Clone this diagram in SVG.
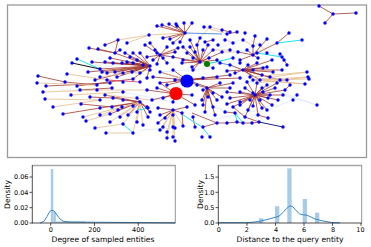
<svg xmlns="http://www.w3.org/2000/svg" width="371" height="247" viewBox="0 0 371 247">
<style>
.b{stroke:#a33a2c;stroke-width:0.8;fill:none}
.t{stroke:#e6bb8a;stroke-width:0.8;fill:none}
.f{stroke:#d9eaff;stroke-width:0.8;fill:none}
.c{stroke:#1ee3ee;stroke-width:1;fill:none}
.cb{stroke:#5b8ce0;stroke-width:1;fill:none}
.k{stroke:#111;stroke-width:1;fill:none}
.nv{stroke:#1a237e;stroke-width:1;fill:none}
.cr{stroke:#d8345f;stroke-width:0.8;fill:none}
#nodes circle{fill:#0000ff}
.tick{font-family:"DejaVu Sans",sans-serif;font-size:6.5px;fill:#000}
.lab{font-family:"DejaVu Sans",sans-serif;font-size:7.6px;fill:#000}
.bar{fill:#a6cce6}
.kde{stroke:#3a87c4;stroke-width:1;fill:none}
</style>
<rect width="371" height="247" fill="#fff"/>
<rect x="7.5" y="5" width="359" height="152.5" fill="#fff" stroke="#9a9a9a" stroke-width="1.3"/>
<g id="connectors">
<path class="f" d="M220 63L267 39M240 78L317 105M267 110L293 100M293 100L297 95M213 107L235 113M160 72L213 68M123 92L173 102M100 115L137 112M230 50L267 53M193 58L240 40M230 65L280 80M243 123L270 105M60 90L100 90M210 120L260 110M140 130L175 128M250 40L285 60M283 95L317 105M88 72L122 63"/>
<path class="b" d="M185 33L157 26M185 33L162 25M185 33L169 24M185 33L176 24M185 33L184 23M185 33L192 23M185 33L177 26M185 33L163 38M185 33L170 39M185 33L180 42M185 33L173 43M222 30L230 32M227 34L237 32M213 40L205 42M200 38L197 45M118 40L115 53M89 48L115 53M98 49L115 53M333 14L319 6M333 14L356 13M333 14L325 23M253 55L277 43M253 55L267 39M255 36L253 46M253 46L253 55M289 33L277 43M283 58L287 65M240 60L253 55M247 50L253 55M258 58L253 55M238 52L253 55
M150 66L100 69M150 66L102 72M150 66L107 73M150 66L115 72M150 66L123 73M150 66L105 62M150 66L113 63M150 66L122 63M150 66L127 62M150 66L133 63M150 66L130 57M150 66L137 60M150 66L115 53M150 66L125 53M150 66L133 53M150 66L140 53M150 66L117 77M150 66L133 79M150 66L147 78M150 66L132 72M150 66L143 65M150 66L140 73M150 66L92 62M150 66L110 58M150 66L88 72M150 66L95 80
M160 55L147 57M160 55L157 53M160 55L163 58M160 55L167 47M160 55L155 50M160 55L178 48M160 55L173 57M160 55L157 64M160 55L153 60M160 55L167 63M160 55L145 45M160 55L150 43M160 55L175 52
M200 62L183 47M200 62L190 47M200 62L197 45M200 62L203 50M200 62L213 50M200 62L209 58M200 62L193 58M200 62L183 60M200 62L192 67M200 62L193 70M200 62L182 63M200 62L173 57M200 62L217 60M200 62L222 52M200 62L187 53M200 62L195 52M200 62L208 45M200 62L190 40
M243 70L253 70M243 70L263 68M243 70L273 72M243 70L282 70M243 70L253 77M243 70L260 80M243 70L270 77M243 70L280 80M243 70L235 73M243 70L227 71M243 70L230 65M243 70L248 65M243 70L257 63M243 70L267 67M243 70L272 60M243 70L262 75
M255 95L227 92M255 95L240 92M255 95L253 93M255 95L263 92M255 95L270 95M255 95L230 98M255 95L240 102M255 95L250 100M255 95L260 100M255 95L268 98M255 95L227 104M255 95L233 107M255 95L240 105M255 95L253 106M255 95L267 110M255 95L245 117M255 95L258 115M255 95L247 82M255 95L257 83M255 95L267 85M255 95L277 83M255 95L275 88M255 95L285 90M255 95L283 95M255 95L278 100M255 95L272 105M255 95L262 108M255 95L248 110M255 95L245 88M255 95L262 88
M207 88L197 85M207 88L203 90M207 88L213 93M207 88L202 100M207 88L208 97M207 88L217 100M207 88L203 105M207 88L213 107M207 88L220 83M207 88L233 83M207 88L230 88M207 88L222 97M207 88L205 112M207 88L215 115
M187 80L160 83M187 80L167 85M187 80L153 77M187 80L175 80M187 80L197 85M187 80L203 78M187 80L217 77M187 80L207 87M187 80L173 70M187 80L160 72M187 80L230 75M187 80L240 78
M176 94L160 83M176 94L157 88M176 94L192 95M176 94L173 102M176 94L147 90M176 94L163 98M176 94L152 100M176 94L195 105
M173 110L160 115M173 110L158 123M173 110L173 115M173 110L182 113M173 110L158 108M173 110L187 107M173 110L165 118
M140 102L112 107M140 102L133 106M140 102L147 107M140 102L137 112M140 102L148 117M140 102L113 98M140 102L123 100M140 102L137 98M140 102L100 108M140 102L110 114M140 102L150 112M140 102L128 115M140 102L118 110M140 102L105 95
M38 76L65 82M46 86L110 83M77 86L133 79M63 114L100 108M81 104L112 107M65 82L97 85M80 90L112 88M90 97L113 98M120 50L115 53M105 45L118 40
M203 127L217 123M217 123L227 123M227 123L237 122M237 122L243 123M243 123L252 123M252 123L259 122M258 115L268 118M192 113L217 123M245 117L259 122M233 107L245 117M225 112L235 113
M193 117L195 127M182 113L183 126M287 80L280 80M290 85L285 90"/>
<path class="t" d="M149 35L185 33M118 40L149 35M204 27L227 34M210 27L222 30M127 43L149 35M37 83L97 85M43 92L97 90M45 99L100 100M67 74L123 82M71 95L123 92M53 107L100 100M83 117L122 107M86 121L110 114M95 128L123 124M106 133L133 133M253 80L307 72M253 80L308 77M253 80L309 79M253 80L305 84M250 77L307 72M257 83L308 77M260 80L305 84M173 110L163 127M173 110L173 127M173 110L167 132M173 110L173 137M173 110L167 138M173 110L175 141M173 110L183 126M173 110L175 128M173 110L160 130M140 102L100 115M140 102L120 117M140 102L122 107M140 102L110 122M140 102L123 124M140 102L137 122M140 102L143 125M140 102L133 133M100 77L150 70M97 90L147 90M102 72L140 73M200 62L213 68M200 62L220 63M230 50L213 50M238 52L222 52M160 72L187 80M210 27L200 38M225 40L233 43M243 40L253 46M260 45L267 53M105 95L152 100"/>
<path class="c" d="M277 43L302 40M257 53L282 57M77 59L100 69M207 64L233 58M138 110L148 108M123 124L133 133M183 115L202 127M202 127L210 137M235 113L237 122M235 113L243 123"/>
<path class="cb" d="M185 33L222 34M220 63L230 65"/>
<path class="k" d="M72 63L100 69"/>
<path class="nv" d="M259 122L283 127"/>
<path class="cr" d="M107 80L140 82"/>
</g>
<g id="nodes">
<circle id="n1" cx="157" cy="26" r="1.7"/><circle id="n2" cx="162" cy="25" r="1.7"/><circle id="n3" cx="169" cy="24" r="1.7"/><circle id="n4" cx="176" cy="24" r="1.7"/><circle id="n5" cx="184" cy="23" r="1.7"/><circle id="n6" cx="192" cy="23" r="1.7"/><circle id="n7" cx="177" cy="26" r="1.7"/><circle id="n8" cx="204" cy="27" r="1.7"/><circle id="n9" cx="210" cy="27" r="1.7"/>
<circle id="n10" cx="185" cy="33" r="1.7"/><circle id="n11" cx="222" cy="30" r="1.7"/><circle id="n12" cx="230" cy="32" r="1.7"/><circle id="n13" cx="237" cy="32" r="1.7"/><circle id="n14" cx="245" cy="33" r="1.7"/><circle id="n15" cx="227" cy="34" r="1.7"/><circle id="n16" cx="255" cy="36" r="1.7"/><circle id="n17" cx="149" cy="35" r="1.7"/><circle id="n18" cx="289" cy="33" r="1.7"/>
<circle id="n19" cx="118" cy="40" r="1.7"/><circle id="n20" cx="127" cy="43" r="1.7"/><circle id="n21" cx="163" cy="38" r="1.7"/><circle id="n22" cx="170" cy="39" r="1.7"/><circle id="n23" cx="180" cy="42" r="1.7"/><circle id="n24" cx="173" cy="43" r="1.7"/><circle id="n25" cx="200" cy="38" r="1.7"/><circle id="n26" cx="205" cy="42" r="1.7"/><circle id="n27" cx="213" cy="40" r="1.7"/><circle id="n28" cx="218" cy="45" r="1.7"/><circle id="n29" cx="267" cy="39" r="1.7"/><circle id="n30" cx="277" cy="43" r="1.7"/><circle id="n31" cx="302" cy="40" r="1.7"/><circle id="n32" cx="253" cy="46" r="1.7"/><circle id="n33" cx="233" cy="43" r="1.7"/>
<circle id="n34" cx="89" cy="48" r="1.7"/><circle id="n35" cx="98" cy="49" r="1.7"/><circle id="n36" cx="115" cy="53" r="1.7"/><circle id="n37" cx="125" cy="53" r="1.7"/><circle id="n38" cx="133" cy="53" r="1.7"/><circle id="n39" cx="140" cy="53" r="1.7"/><circle id="n40" cx="155" cy="50" r="1.7"/><circle id="n41" cx="157" cy="53" r="1.7"/><circle id="n42" cx="167" cy="47" r="1.7"/><circle id="n43" cx="178" cy="48" r="1.7"/><circle id="n44" cx="183" cy="47" r="1.7"/><circle id="n45" cx="190" cy="47" r="1.7"/><circle id="n46" cx="197" cy="45" r="1.7"/><circle id="n47" cx="203" cy="50" r="1.7"/><circle id="n48" cx="213" cy="50" r="1.7"/><circle id="n49" cx="222" cy="52" r="1.7"/><circle id="n50" cx="230" cy="50" r="1.7"/><circle id="n51" cx="238" cy="52" r="1.7"/><circle id="n52" cx="247" cy="50" r="1.7"/><circle id="n53" cx="257" cy="53" r="1.7"/><circle id="n54" cx="267" cy="53" r="1.7"/>
<circle id="n55" cx="130" cy="57" r="1.7"/><circle id="n56" cx="137" cy="60" r="1.7"/><circle id="n57" cx="147" cy="57" r="1.7"/><circle id="n58" cx="153" cy="60" r="1.7"/><circle id="n59" cx="163" cy="58" r="1.7"/><circle id="n60" cx="173" cy="57" r="1.7"/><circle id="n61" cx="183" cy="60" r="1.7"/><circle id="n62" cx="193" cy="58" r="1.7"/><circle id="n63" cx="200" cy="62" r="1.7"/><circle id="n64" cx="209" cy="58" r="1.7"/><circle id="n65" cx="217" cy="60" r="1.7"/><circle id="n66" cx="233" cy="58" r="1.7"/><circle id="n67" cx="240" cy="60" r="1.7"/><circle id="n68" cx="253" cy="55" r="1.7"/><circle id="n69" cx="258" cy="58" r="1.7"/><circle id="n70" cx="280" cy="54" r="1.7"/><circle id="n71" cx="282" cy="57" r="1.7"/><circle id="n72" cx="284" cy="60" r="1.7"/><circle id="n73" cx="287" cy="65" r="1.7"/>
<circle id="n74" cx="77" cy="59" r="1.7"/><circle id="n75" cx="72" cy="63" r="1.7"/><circle id="n76" cx="105" cy="62" r="1.7"/><circle id="n77" cx="113" cy="63" r="1.7"/><circle id="n78" cx="122" cy="63" r="1.7"/><circle id="n79" cx="127" cy="62" r="1.7"/><circle id="n80" cx="133" cy="63" r="1.7"/><circle id="n81" cx="143" cy="65" r="1.7"/><circle id="n82" cx="157" cy="64" r="1.7"/><circle id="n83" cx="167" cy="63" r="1.7"/><circle id="n84" cx="182" cy="63" r="1.7"/><circle id="n85" cx="192" cy="67" r="1.7"/><circle id="n86" cx="220" cy="63" r="1.7"/><circle id="n87" cx="230" cy="65" r="1.7"/><circle id="n88" cx="240" cy="63" r="1.7"/><circle id="n89" cx="248" cy="65" r="1.7"/><circle id="n90" cx="257" cy="63" r="1.7"/><circle id="n91" cx="267" cy="67" r="1.7"/>
<circle id="n92" cx="100" cy="69" r="1.7"/><circle id="n93" cx="102" cy="72" r="1.7"/><circle id="n94" cx="107" cy="73" r="1.7"/><circle id="n95" cx="115" cy="72" r="1.7"/><circle id="n96" cx="123" cy="73" r="1.7"/><circle id="n97" cx="132" cy="72" r="1.7"/><circle id="n98" cx="140" cy="73" r="1.7"/><circle id="n99" cx="150" cy="70" r="1.7"/><circle id="n100" cx="160" cy="72" r="1.7"/><circle id="n101" cx="173" cy="70" r="1.7"/><circle id="n102" cx="193" cy="70" r="1.7"/><circle id="n103" cx="213" cy="68" r="1.7"/><circle id="n104" cx="227" cy="71" r="1.7"/><circle id="n105" cx="235" cy="73" r="1.7"/><circle id="n106" cx="243" cy="70" r="1.7"/><circle id="n107" cx="253" cy="70" r="1.7"/><circle id="n108" cx="263" cy="68" r="1.7"/><circle id="n109" cx="273" cy="72" r="1.7"/><circle id="n110" cx="282" cy="70" r="1.7"/><circle id="n111" cx="307" cy="72" r="1.7"/>
<circle id="n112" cx="38" cy="76" r="1.7"/><circle id="n113" cx="67" cy="74" r="1.7"/><circle id="n114" cx="100" cy="77" r="1.7"/><circle id="n115" cx="107" cy="80" r="1.7"/><circle id="n116" cx="117" cy="77" r="1.7"/><circle id="n117" cx="133" cy="79" r="1.7"/><circle id="n118" cx="147" cy="78" r="1.7"/><circle id="n119" cx="153" cy="77" r="1.7"/><circle id="n120" cx="175" cy="80" r="1.7"/><circle id="n121" cx="203" cy="78" r="1.7"/><circle id="n122" cx="217" cy="77" r="1.7"/><circle id="n123" cx="230" cy="75" r="1.7"/><circle id="n124" cx="240" cy="78" r="1.7"/><circle id="n125" cx="250" cy="77" r="1.7"/><circle id="n126" cx="260" cy="80" r="1.7"/><circle id="n127" cx="270" cy="77" r="1.7"/><circle id="n128" cx="280" cy="80" r="1.7"/><circle id="n129" cx="308" cy="77" r="1.7"/><circle id="n130" cx="309" cy="79" r="1.7"/><circle id="n131" cx="253" cy="80" r="1.7"/>
<circle id="n132" cx="37" cy="83" r="1.7"/><circle id="n133" cx="46" cy="86" r="1.7"/><circle id="n134" cx="65" cy="82" r="1.7"/><circle id="n135" cx="77" cy="86" r="1.7"/><circle id="n136" cx="97" cy="85" r="1.7"/><circle id="n137" cx="110" cy="83" r="1.7"/><circle id="n138" cx="123" cy="82" r="1.7"/><circle id="n139" cx="140" cy="82" r="1.7"/><circle id="n140" cx="160" cy="83" r="1.7"/><circle id="n141" cx="167" cy="85" r="1.7"/><circle id="n142" cx="197" cy="85" r="1.7"/><circle id="n143" cx="207" cy="88" r="1.7"/><circle id="n144" cx="220" cy="83" r="1.7"/><circle id="n145" cx="233" cy="83" r="1.7"/><circle id="n146" cx="247" cy="82" r="1.7"/><circle id="n147" cx="257" cy="83" r="1.7"/><circle id="n148" cx="267" cy="85" r="1.7"/><circle id="n149" cx="277" cy="83" r="1.7"/><circle id="n150" cx="305" cy="84" r="1.7"/>
<circle id="n151" cx="43" cy="92" r="1.7"/><circle id="n152" cx="71" cy="95" r="1.7"/><circle id="n153" cx="80" cy="90" r="1.7"/><circle id="n154" cx="97" cy="90" r="1.7"/><circle id="n155" cx="112" cy="88" r="1.7"/><circle id="n156" cx="123" cy="92" r="1.7"/><circle id="n157" cx="147" cy="90" r="1.7"/><circle id="n158" cx="157" cy="88" r="1.7"/><circle id="n159" cx="192" cy="95" r="1.7"/><circle id="n160" cx="203" cy="90" r="1.7"/><circle id="n161" cx="213" cy="93" r="1.7"/><circle id="n162" cx="227" cy="92" r="1.7"/><circle id="n163" cx="240" cy="92" r="1.7"/><circle id="n164" cx="253" cy="93" r="1.7"/><circle id="n165" cx="263" cy="92" r="1.7"/><circle id="n166" cx="270" cy="95" r="1.7"/><circle id="n167" cx="255" cy="95" r="1.7"/>
<circle id="n168" cx="45" cy="99" r="1.7"/><circle id="n169" cx="90" cy="97" r="1.7"/><circle id="n170" cx="100" cy="100" r="1.7"/><circle id="n171" cx="113" cy="98" r="1.7"/><circle id="n172" cx="123" cy="100" r="1.7"/><circle id="n173" cx="137" cy="98" r="1.7"/><circle id="n174" cx="152" cy="100" r="1.7"/><circle id="n175" cx="163" cy="98" r="1.7"/><circle id="n176" cx="173" cy="102" r="1.7"/><circle id="n177" cx="202" cy="100" r="1.7"/><circle id="n178" cx="208" cy="97" r="1.7"/><circle id="n179" cx="217" cy="100" r="1.7"/><circle id="n180" cx="230" cy="98" r="1.7"/><circle id="n181" cx="240" cy="102" r="1.7"/><circle id="n182" cx="250" cy="100" r="1.7"/><circle id="n183" cx="260" cy="100" r="1.7"/><circle id="n184" cx="268" cy="98" r="1.7"/><circle id="n185" cx="293" cy="100" r="1.7"/><circle id="n186" cx="297" cy="95" r="1.7"/><circle id="n187" cx="140" cy="102" r="1.7"/>
<circle id="n188" cx="53" cy="107" r="1.7"/><circle id="n189" cx="81" cy="104" r="1.7"/><circle id="n190" cx="100" cy="108" r="1.7"/><circle id="n191" cx="112" cy="107" r="1.7"/><circle id="n192" cx="122" cy="107" r="1.7"/><circle id="n193" cx="133" cy="106" r="1.7"/><circle id="n194" cx="147" cy="107" r="1.7"/><circle id="n195" cx="158" cy="108" r="1.7"/><circle id="n196" cx="173" cy="110" r="1.7"/><circle id="n197" cx="187" cy="107" r="1.7"/><circle id="n198" cx="203" cy="105" r="1.7"/><circle id="n199" cx="213" cy="107" r="1.7"/><circle id="n200" cx="227" cy="104" r="1.7"/><circle id="n201" cx="233" cy="107" r="1.7"/><circle id="n202" cx="240" cy="105" r="1.7"/><circle id="n203" cx="253" cy="106" r="1.7"/><circle id="n204" cx="267" cy="110" r="1.7"/><circle id="n205" cx="317" cy="105" r="1.7"/>
<circle id="n206" cx="63" cy="114" r="1.7"/><circle id="n207" cx="83" cy="117" r="1.7"/><circle id="n208" cx="100" cy="115" r="1.7"/><circle id="n209" cx="110" cy="114" r="1.7"/><circle id="n210" cx="120" cy="117" r="1.7"/><circle id="n211" cx="137" cy="112" r="1.7"/><circle id="n212" cx="148" cy="117" r="1.7"/><circle id="n213" cx="160" cy="115" r="1.7"/><circle id="n214" cx="173" cy="115" r="1.7"/><circle id="n215" cx="182" cy="113" r="1.7"/><circle id="n216" cx="193" cy="117" r="1.7"/><circle id="n217" cx="235" cy="113" r="1.7"/><circle id="n218" cx="245" cy="117" r="1.7"/><circle id="n219" cx="258" cy="115" r="1.7"/><circle id="n220" cx="268" cy="118" r="1.7"/><circle id="n221" cx="148" cy="108" r="1.7"/>
<circle id="n222" cx="86" cy="121" r="1.7"/><circle id="n223" cx="95" cy="128" r="1.7"/><circle id="n224" cx="110" cy="122" r="1.7"/><circle id="n225" cx="123" cy="124" r="1.7"/><circle id="n226" cx="137" cy="122" r="1.7"/><circle id="n227" cx="143" cy="125" r="1.7"/><circle id="n228" cx="158" cy="123" r="1.7"/><circle id="n229" cx="163" cy="127" r="1.7"/><circle id="n230" cx="173" cy="127" r="1.7"/><circle id="n231" cx="183" cy="126" r="1.7"/><circle id="n232" cx="195" cy="127" r="1.7"/><circle id="n233" cx="203" cy="127" r="1.7"/><circle id="n234" cx="217" cy="123" r="1.7"/><circle id="n235" cx="227" cy="123" r="1.7"/><circle id="n236" cx="237" cy="122" r="1.7"/><circle id="n237" cx="243" cy="123" r="1.7"/><circle id="n238" cx="252" cy="123" r="1.7"/><circle id="n239" cx="259" cy="122" r="1.7"/><circle id="n240" cx="283" cy="127" r="1.7"/>
<circle id="n241" cx="106" cy="133" r="1.7"/><circle id="n242" cx="133" cy="133" r="1.7"/><circle id="n243" cx="160" cy="130" r="1.7"/><circle id="n244" cx="167" cy="132" r="1.7"/><circle id="n245" cx="175" cy="128" r="1.7"/><circle id="n246" cx="173" cy="137" r="1.7"/><circle id="n247" cx="167" cy="138" r="1.7"/><circle id="n248" cx="175" cy="141" r="1.7"/><circle id="n249" cx="202" cy="137" r="1.7"/><circle id="n250" cx="210" cy="137" r="1.7"/>
<circle id="n251" cx="319" cy="6" r="1.7"/><circle id="n252" cx="333" cy="14" r="1.7"/><circle id="n253" cx="356" cy="13" r="1.7"/><circle id="n254" cx="325" cy="23" r="1.7"/>
<circle id="n255" cx="150" cy="66" r="1.7"/><circle id="n256" cx="160" cy="55" r="1.7"/>
<circle id="n257" cx="145" cy="45" r="1.7"/><circle id="n258" cx="150" cy="43" r="1.7"/><circle id="n259" cx="175" cy="52" r="1.7"/><circle id="n260" cx="187" cy="53" r="1.7"/><circle id="n261" cx="195" cy="52" r="1.7"/><circle id="n262" cx="208" cy="45" r="1.7"/><circle id="n263" cx="225" cy="40" r="1.7"/><circle id="n264" cx="243" cy="40" r="1.7"/><circle id="n265" cx="260" cy="45" r="1.7"/><circle id="n266" cx="272" cy="60" r="1.7"/><circle id="n267" cx="262" cy="75" r="1.7"/><circle id="n268" cx="275" cy="88" r="1.7"/><circle id="n269" cx="285" cy="90" r="1.7"/><circle id="n270" cx="290" cy="85" r="1.7"/><circle id="n271" cx="287" cy="80" r="1.7"/><circle id="n272" cx="283" cy="95" r="1.7"/><circle id="n273" cx="278" cy="100" r="1.7"/><circle id="n274" cx="272" cy="105" r="1.7"/><circle id="n275" cx="262" cy="108" r="1.7"/><circle id="n276" cx="248" cy="110" r="1.7"/><circle id="n277" cx="225" cy="112" r="1.7"/><circle id="n278" cx="215" cy="115" r="1.7"/><circle id="n279" cx="205" cy="112" r="1.7"/><circle id="n280" cx="195" cy="105" r="1.7"/><circle id="n281" cx="165" cy="118" r="1.7"/><circle id="n282" cx="150" cy="112" r="1.7"/><circle id="n283" cx="128" cy="115" r="1.7"/><circle id="n284" cx="118" cy="110" r="1.7"/><circle id="n285" cx="105" cy="95" r="1.7"/><circle id="n286" cx="95" cy="80" r="1.7"/><circle id="n287" cx="88" cy="72" r="1.7"/><circle id="n288" cx="92" cy="62" r="1.7"/><circle id="n289" cx="110" cy="58" r="1.7"/><circle id="n290" cx="120" cy="50" r="1.7"/><circle id="n291" cx="105" cy="45" r="1.7"/><circle id="n292" cx="230" cy="88" r="1.7"/><circle id="n293" cx="222" cy="97" r="1.7"/><circle id="n294" cx="245" cy="88" r="1.7"/><circle id="n295" cx="262" cy="88" r="1.7"/><circle id="n296" cx="190" cy="40" r="1.7"/>
</g>
<g id="big-blue"><circle cx="187" cy="81" r="6.6" fill="#0000ff"/></g>
<g id="big-red"><circle cx="176" cy="93.5" r="6.6" fill="#ff0000"/></g>
<g id="green"><circle cx="207" cy="64" r="3" fill="#007a00"/></g>

<g id="plot-degree">
<rect class="bar" x="50.8" y="169" width="2.5" height="54"/>
<rect class="bar" x="53.3" y="212" width="2.6" height="11"/>
<rect class="bar" x="55.9" y="221.5" width="30" height="1.5"/>
<path class="kde" d="M40 223L44 221.3L47 216.5L50 211.2L52 210.2L54 211L57 215L60 219L63 221.2L70 222L100 222.3L140 222.6L175 222.8"/>
<line x1="32.3" y1="165.5" x2="175.3" y2="165.5" stroke="#a8a8a8" stroke-width="1.5"/>
<line x1="175.3" y1="165" x2="175.3" y2="223" stroke="#8a8a8a" stroke-width="0.9"/>
<line x1="32.3" y1="165" x2="32.3" y2="223.3" stroke="#222" stroke-width="0.8"/>
<line x1="32" y1="223" x2="175.5" y2="223" stroke="#222" stroke-width="0.8"/>
<path stroke="#222" stroke-width="0.8" d="M29.5 223H32.3M29.5 207.7H32.3M29.5 192.3H32.3M29.5 177H32.3M50.7 223V225.8M94.5 223V225.8M138.3 223V225.8"/>
<g class="tick" text-anchor="end">
<text x="28.5" y="225.3">0.00</text><text x="28.5" y="210">0.02</text><text x="28.5" y="194.6">0.04</text><text x="28.5" y="179.3">0.06</text>
</g>
<g class="tick" text-anchor="middle">
<text x="50.7" y="232">0</text><text x="94.5" y="232">200</text><text x="138.3" y="232">400</text>
</g>
<text class="lab" text-anchor="middle" x="103" y="241.8">Degree of sampled entities</text>
<text class="lab" text-anchor="middle" transform="translate(10 194.5) rotate(-90)">Density</text>
</g>

<g id="plot-distance">
<rect class="bar" x="259" y="218.3" width="4.3" height="4.7"/>
<rect class="bar" x="275" y="206.3" width="4.3" height="16.7"/>
<rect class="bar" x="287.3" y="168.3" width="4.3" height="54.7"/>
<rect class="bar" x="302.7" y="199" width="4.3" height="24"/>
<rect class="bar" x="315" y="212.7" width="4.3" height="10.3"/>
<path class="kde" d="M218.5 222.7L246 222.7L253 222.2L261 221L268 219.3L274 217.6L279 216.2L283 212.5L286.5 208.5L290 205.8L293 206.8L296 210.5L299.5 213.8L303 214.8L306 215L310 216.5L315 219L319 220L325 221.4L333 222.7L340 222.8"/>
<line x1="218.3" y1="165.5" x2="361.7" y2="165.5" stroke="#a8a8a8" stroke-width="1.5"/>
<line x1="361.7" y1="165" x2="361.7" y2="223" stroke="#8a8a8a" stroke-width="0.9"/>
<line x1="218.3" y1="165" x2="218.3" y2="223.3" stroke="#222" stroke-width="0.8"/>
<line x1="218" y1="223" x2="362" y2="223" stroke="#222" stroke-width="0.8"/>
<path stroke="#222" stroke-width="0.8" d="M215.5 223H218.3M215.5 207.6H218.3M215.5 192.3H218.3M215.5 177.1H218.3M218.5 223V225.8M247 223V225.8M275.5 223V225.8M304 223V225.8M332.5 223V225.8M361 223V225.8"/>
<g class="tick" text-anchor="end">
<text x="214.5" y="225.3">0.0</text><text x="214.5" y="210">0.5</text><text x="214.5" y="194.6">1.0</text><text x="214.5" y="179.4">1.5</text>
</g>
<g class="tick" text-anchor="middle">
<text x="218.7" y="232">0</text><text x="246.8" y="232">2</text><text x="276" y="232">4</text><text x="304" y="232">6</text><text x="333" y="232">8</text><text x="360.5" y="232">10</text>
</g>
<text class="lab" text-anchor="middle" x="290" y="241.8">Distance to the query entity</text>
<text class="lab" text-anchor="middle" transform="translate(203 194.5) rotate(-90)">Density</text>
</g>
</svg>
